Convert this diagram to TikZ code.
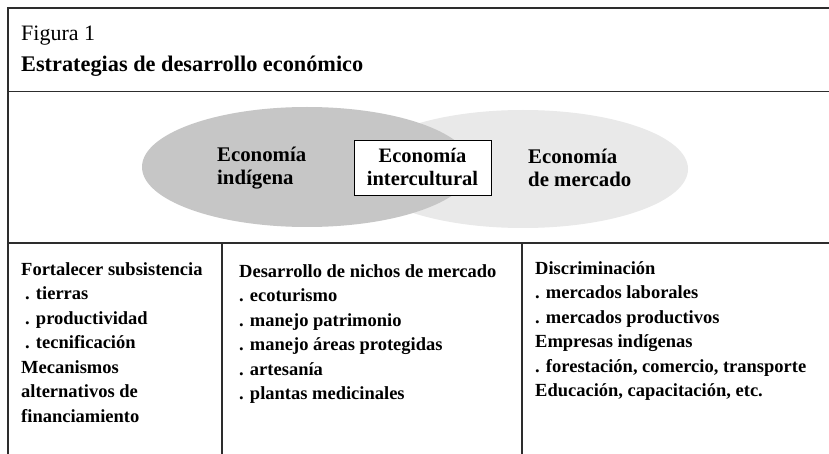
\documentclass[tikz,border=0pt]{standalone}
\usepackage{fontspec}
\setmainfont{Liberation Serif}
\definecolor{leftgray}{RGB}{198,198,198}
\definecolor{rightgray}{RGB}{233,233,233}
\definecolor{framecol}{RGB}{45,45,45}
\begin{document}
\begin{tikzpicture}[x=1pt,y=-1pt,
  frame/.style={draw=framecol,line width=1.4pt},
  titletext/.style={inner sep=0pt,font=\fontsize{22}{24}\selectfont},
  venntext/.style={inner sep=0pt,align=left,font=\bfseries\fontsize{20.8}{23}\selectfont},
  coltext/.style={inner sep=0pt,anchor=base west,font=\bfseries\fontsize{18.5}{24}\selectfont},
  interbox/.style={draw=black,line width=0.9pt,fill=white,minimum width=137pt,minimum height=55pt,
    align=center,inner sep=0pt,font=\bfseries\fontsize{20.5}{23}\selectfont}]
\useasboundingbox (0,0) rectangle (829,454);
\fill[white] (0,0) rectangle (829,454);
% frame
\draw[frame] (829,8) -- (8,8) -- (8,454);
\draw[frame] (8,91.5) -- (829,91.5);
\draw[frame] (8,243) -- (829,243);
\draw[frame] (222,243) -- (222,454);
\draw[frame] (522,243) -- (522,454);
% title
\node[titletext,anchor=base west] (fig) at (21,41) {Figura 1};
\node[titletext,anchor=base west,font=\bfseries\fontsize{22.3}{24}\selectfont] (title) at (21,72) {Estrategias de desarrollo económico};
% ellipses
\fill[rightgray] (523,169) ellipse [x radius=165pt, y radius=59pt];
\fill[leftgray] (307,167) ellipse [x radius=165pt, y radius=60pt];
\node[interbox] (inter) at (422.5,167.5) {Economía\\intercultural};
\node[venntext,anchor=west] (indig) at (217,168) {Economía\\indígena};
\node[venntext,anchor=west] (merc) at (528,168) {Economía\\de mercado};
% columns
\foreach \t [count=\i] in {Fortalecer subsistencia,{\hspace{4pt}. tierras},{\hspace{4pt}. productividad},{\hspace{4pt}. tecnificación},Mecanismos,alternativos de,financiamiento}
  \node[coltext] (a\i) at (21,{275+24.5*(\i-1)}) {\t};
\foreach \t [count=\i] in {Desarrollo de nichos de mercado,. ecoturismo,. manejo patrimonio,. manejo áreas protegidas,. artesanía,. plantas medicinales}
  \node[coltext] (b\i) at (239,{277+24.5*(\i-1)}) {\t};
\foreach \t [count=\i] in {Discriminación,. mercados laborales,. mercados productivos,Empresas indígenas,{. forestación, comercio, transporte},{Educación, capacitación, etc.}}
  \node[coltext] (c\i) at (535,{274+24.5*(\i-1)}) {\t};
\end{tikzpicture}
\end{document}
